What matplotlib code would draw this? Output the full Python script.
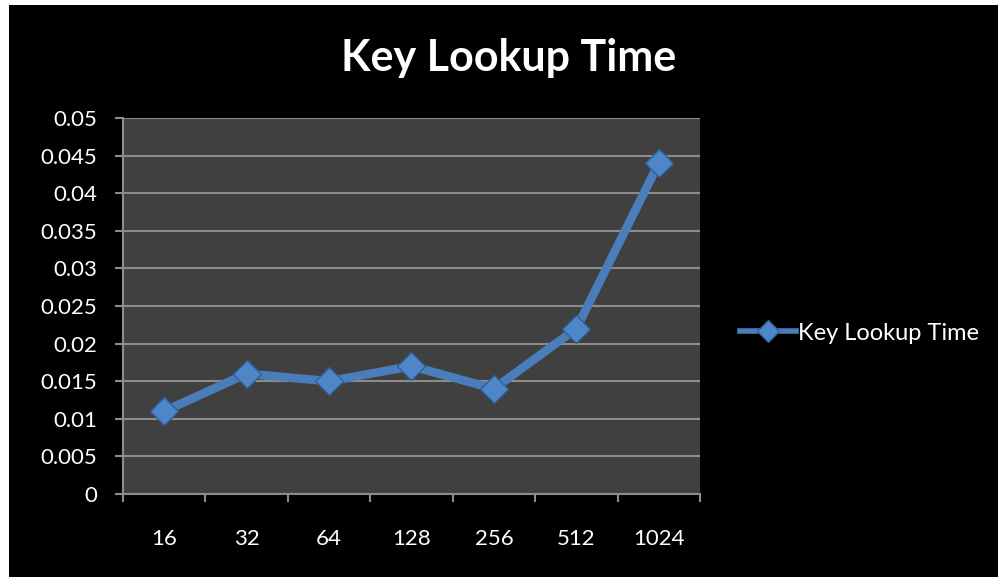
import matplotlib
matplotlib.use("Agg")
import matplotlib.pyplot as plt
from matplotlib.patches import Rectangle
from matplotlib.lines import Line2D

categories = ["16", "32", "64", "128", "256", "512", "1024"]
lookup_time = [0.011, 0.016, 0.015, 0.017, 0.014, 0.022, 0.044]
y_ticks = [0, 0.005, 0.01, 0.015, 0.02, 0.025, 0.03, 0.035, 0.04, 0.045, 0.05]
y_tick_labels = ["0", "0.005", "0.01", "0.015", "0.02", "0.025", "0.03",
                 "0.035", "0.04", "0.045", "0.05"]
series_name = "Key Lookup Time"

plt.rcParams["font.family"] = ["Lato", "DejaVu Sans"]

W, H = 998, 577
fig = plt.figure(figsize=(W / 100, H / 100), dpi=100)
fig.patch.set_facecolor("white")
# black chart area with a thin white margin on the left and top
fig.patches.append(Rectangle((9 / W, 0), 1, (H - 5) / H, transform=fig.transFigure,
                             facecolor="black", edgecolor="none", zorder=-10))

ax = fig.add_axes([123 / W, 1 - 494 / H, (700 - 123) / W, (494 - 118) / H])
ax.set_facecolor("#404040")

line_color = "#4a7ebb"
x = list(range(len(categories)))
ax.plot(x, lookup_time, color=line_color, lw=6.2, solid_capstyle="round",
        solid_joinstyle="round", zorder=3)
ax.plot(x, lookup_time, linestyle="none", marker="D", ms=14,
        markerfacecolor="#4f86c8", markeredgecolor="#2f5f99", markeredgewidth=1.0,
        zorder=4)

ax.set_xlim(-0.5, len(categories) - 0.5)
ax.set_ylim(0, 0.05)
ax.set_yticks(y_ticks)
ax.set_yticklabels(y_tick_labels)
ax.set_xticks(x)
ax.set_xticklabels(categories)
ax.set_xticks([i - 0.5 for i in range(len(categories) + 1)], minor=True)

ax.grid(axis="y", color="#8c8c8c", lw=1.5, zorder=1)
ax.set_axisbelow(True)

for side in ["top", "right"]:
    ax.spines[side].set_visible(False)
for side in ["left", "bottom"]:
    ax.spines[side].set_color("#8c8c8c")
    ax.spines[side].set_linewidth(1.5)

ax.tick_params(axis="y", colors="#8c8c8c", length=5.8, width=1.5, pad=13,
               labelcolor="white", labelsize=16)
ax.tick_params(axis="x", which="major", length=0, pad=25, labelcolor="white",
               labelsize=16)
ax.tick_params(axis="x", which="minor", colors="#8c8c8c", length=6, width=1.5)

fig.text(509 / W, 1 - 58 / H, series_name, color="white", fontsize=31,
         fontweight="bold", ha="center", va="center")

handle = Line2D([], [], color=line_color, lw=4, marker="D", ms=11,
                markerfacecolor="#4f86c8", markeredgecolor="#2f5f99")
leg = fig.legend([handle], [series_name], loc="center left",
                 bbox_to_anchor=(719 / W, 1 - 333 / H), frameon=False,
                 fontsize=17, handlelength=2.35, handletextpad=0.1)
for t in leg.get_texts():
    t.set_color("white")

fig.savefig("out.png", dpi=100, facecolor=fig.get_facecolor())
